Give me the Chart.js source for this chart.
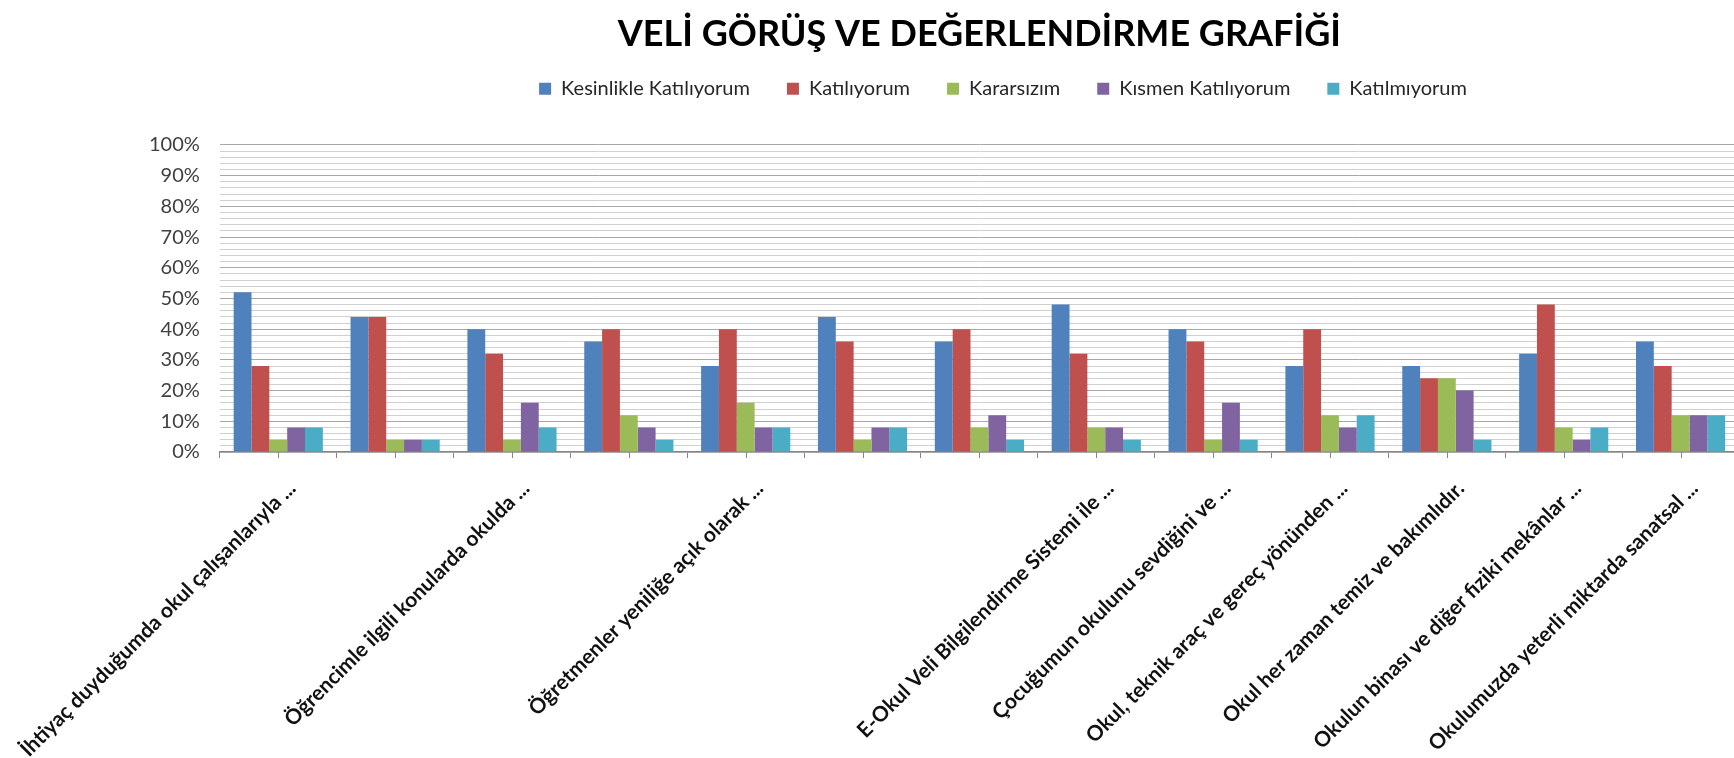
<!DOCTYPE html>
<html>
<head>
<meta charset="utf-8">
<script src="https://cdn.jsdelivr.net/npm/chart.js@4"></script>
<style>
    body { margin: 0; overflow: hidden; background: #fff; }
</style>
</head>
<body>
<canvas id="chart1" width="1877" height="758"></canvas>
<script>
// sorular (only some of the labels are visible in the original)
let questions = [
    'İhtiyaç duyduğumda okul çalışanlarıyla ...',
    '',
    'Öğrencimle ilgili konularda okulda ...',
    '',
    'Öğretmenler yeniliğe açık olarak ...',
    '',
    '',
    'E-Okul Veli Bilgilendirme Sistemi ile ...',
    'Çocuğumun okulunu sevdiğini ve ...',
    'Okul, teknik araç ve gereç yönünden ...',
    'Okul her zaman temiz ve bakımlıdır.',
    'Okulun binası ve diğer fiziki mekânlar ...',
    'Okulumuzda yeterli miktarda sanatsal ...'
];

// yüzdeler
let kesinlikle = [52, 44, 40, 36, 28, 44, 36, 48, 40, 28, 28, 32, 36];
let katiliyorum = [28, 44, 32, 40, 40, 36, 40, 32, 36, 40, 24, 48, 28];
let kararsizim = [4, 4, 4, 12, 16, 4, 8, 8, 4, 12, 24, 8, 12];
let kismen = [8, 4, 16, 8, 8, 8, 12, 8, 16, 8, 20, 4, 12];
let katilmiyorum = [8, 4, 8, 4, 8, 8, 4, 4, 4, 12, 4, 8, 12];

let seriesNames = ['Kesinlikle Katılıyorum', 'Katılıyorum', 'Kararsızım', 'Kısmen Katılıyorum', 'Katılmıyorum'];
let barColor = ['#4F81BD', '#C0504D', '#9BBB59', '#8064A2', '#4BACC6'];

// small tick marks under the middle of each category
const centerTicks = {
    id: 'centerTicks',
    afterDraw(chart) {
        const x = chart.scales.x;
        const ctx = chart.ctx;
        ctx.save();
        ctx.strokeStyle = '#868686';
        ctx.lineWidth = 1;
        ctx.beginPath();
        for (let i = 0; i < questions.length; i++) {
            const px = Math.round(x.getPixelForValue(i)) + 0.5;
            ctx.moveTo(px, chart.chartArea.bottom);
            ctx.lineTo(px, chart.chartArea.bottom + 6);
        }
        ctx.stroke();
        ctx.restore();
    }
};

const chart1 = document.getElementById('chart1').getContext('2d');
let allData = [kesinlikle, katiliyorum, kararsizim, kismen, katilmiyorum];

new Chart(chart1, {
    type: 'bar',
    data: {
        labels: questions,
        datasets: allData.map((d, i) => ({
            label: seriesNames[i],
            data: d,
            backgroundColor: barColor[i],
            borderWidth: 0,
            barPercentage: 1,
            categoryPercentage: 0.763
        }))
    },
    options: {
        responsive: false,
        animation: false,
        layout: {
            padding: { left: 129, right: 0, top: 0, bottom: 0 }
        },
        scales: {
            x: {
                // labels run off the bottom/left like in the original picture
                afterFit: (scale) => {
                    scale.height = 306;
                    scale.paddingLeft = 0;
                    scale.paddingRight = 0;
                },
                grid: {
                    offset: true,
                    drawOnChartArea: false,
                    color: '#868686',
                    tickLength: 6
                },
                border: { color: '#868686' },
                ticks: {
                    autoSkip: false,
                    maxRotation: 45,
                    minRotation: 45,
                    padding: 18,
                    labelOffset: 14,
                    color: '#111',
                    font: { family: 'Lato', size: 21, weight: 'bold' }
                }
            },
            y: {
                min: 0,
                max: 100,
                border: { display: false },
                grid: {
                    drawTicks: false,
                    color: (c) => c.tick && c.tick.value % 10 === 0 ? '#a8a8a8' : '#d0d0d0'
                },
                ticks: {
                    stepSize: 2,
                    autoSkip: false,
                    padding: 20,
                    color: '#404040',
                    font: { family: 'Lato', size: 20 },
                    callback: (v) => v % 10 === 0 ? v + '%' : ''
                }
            },
            // empty right-hand space: the original chart is cut off on the right
            y2: {
                type: 'linear',
                position: 'right',
                afterFit: (scale) => { scale.width = 138; },
                grid: { display: false },
                border: { display: false },
                ticks: { display: false }
            }
        },
        plugins: {
            title: {
                display: true,
                fullSize: false,
                text: 'VELİ GÖRÜŞ VE DEĞERLENDİRME GRAFİĞİ',
                color: '#000',
                font: { family: 'Lato', size: 36, weight: 'bold', lineHeight: 0.41 },
                padding: { top: 27, bottom: 0 }
            },
            legend: {
                display: true,
                weight: 1800,
                labels: {
                    boxWidth: 12,
                    boxHeight: 12,
                    padding: 37,
                    color: '#262626',
                    font: { family: 'Lato', size: 20 }
                }
            },
            subtitle: {
                display: true,
                text: '',
                font: { size: 10, lineHeight: 1 },
                padding: { top: 0, bottom: 26.2 }
            },
            tooltip: { enabled: false }
        }
    },
    plugins: [centerTicks]
});
</script>
</body>
</html>
